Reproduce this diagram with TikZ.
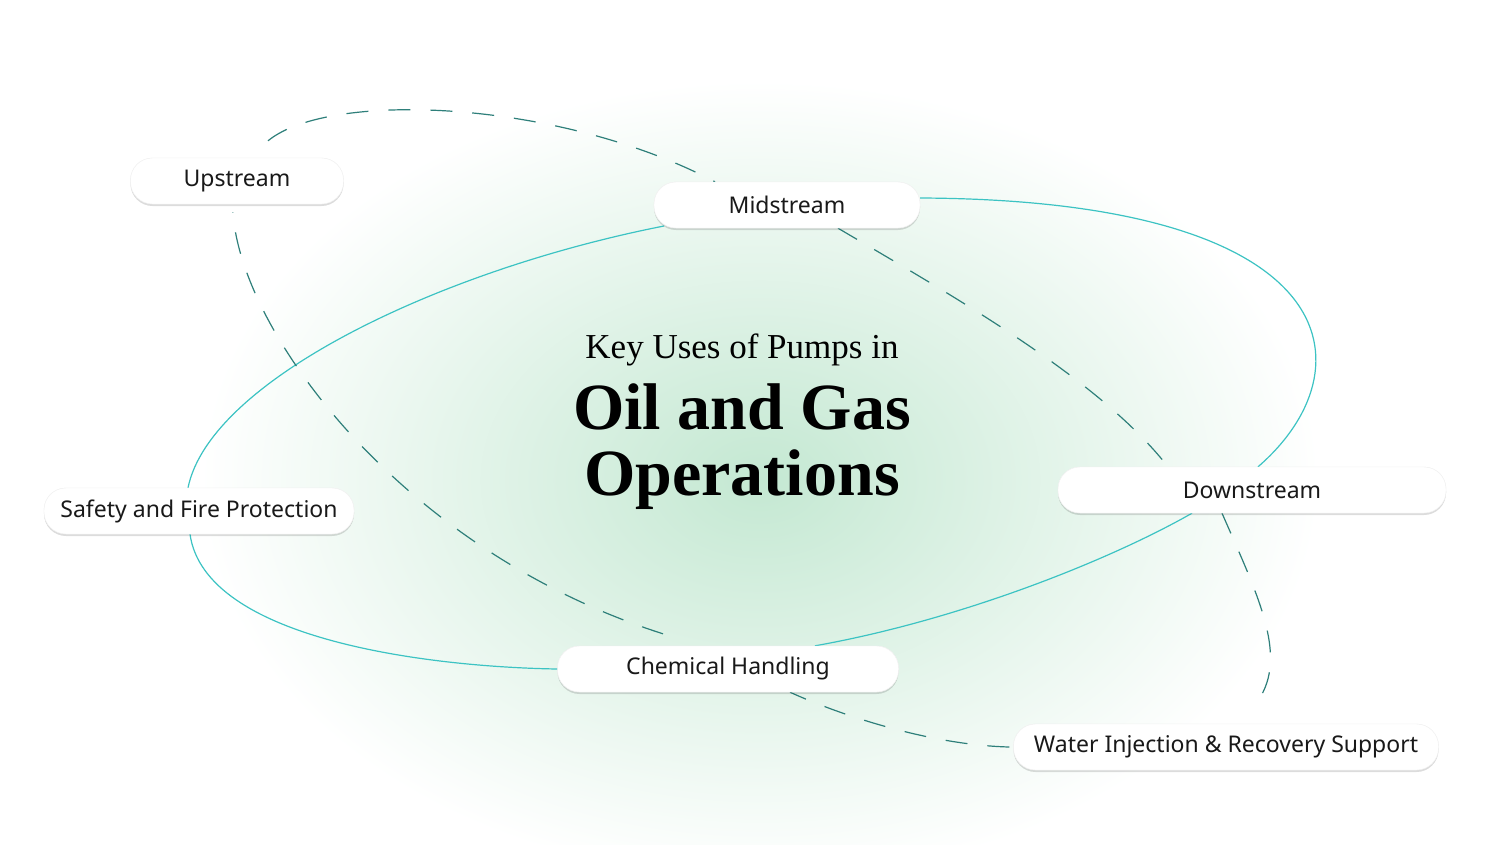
\documentclass[tikz,border=0pt]{standalone}
\usepackage{fontspec}
\setmainfont{Liberation Serif}
\newfontfamily\labelfont{Noto Sans}
\usetikzlibrary{shadows}
\definecolor{teal1}{HTML}{3CC3C3}
\definecolor{dash1}{HTML}{2E7F7A}
\definecolor{glow}{HTML}{C4E8D2}
\tikzset{
  pill/.style={draw=black!6, fill=white, rounded corners=22pt, minimum height=46pt,
    font=\labelfont\fontsize{23}{27}\selectfont, text=black!90,
    drop shadow={shadow xshift=0pt, shadow yshift=-2pt, opacity=0.07, fill=black}},
  loop/.style={draw=teal1, line width=1.2pt},
  dashline/.style={draw=dash1, line width=1.2pt, dash pattern=on 22pt off 20pt}
}
\begin{document}
\begin{tikzpicture}[x=1pt,y=-1pt]
\useasboundingbox (0,0) rectangle (1500,844);
\fill[white] (0,0) rectangle (1500,844);
\shade[inner color=glow, outer color=white] (760,480) ellipse (560 and 400);
% nodes
\node[pill, minimum width=213pt] (up) at (237,181) {Upstream};
\node[pill, minimum width=266pt] (mid) at (787,205) {Midstream};
\node[pill, minimum width=388pt] (down) at (1252,490) {Downstream};
\node[pill, minimum width=310pt] (safe) at (199,511) {Safety and Fire Protection};
\node[pill, minimum width=341pt] (chem) at (728,669) {Chemical Handling};
\node[pill, minimum width=425pt] (water) at (1226,747) {Water Injection \& Recovery Support};
% solid loop
\draw[loop] ([xshift=-123pt,yshift=-21pt]mid.center) .. controls (440,270) and (210,380) .. ([xshift=-11pt]safe.north);
\draw[loop] ([xshift=-9pt]safe.south) .. controls (205,640) and (430,667) .. (chem.west);
\draw[loop] ([xshift=87pt]chem.north) .. controls (960,620) and (1110,560) .. ([xshift=-60pt]down.south);
\draw[loop] ([xshift=6pt]down.north) .. controls (1370,370) and (1350,200) .. ([yshift=7pt]mid.east);
% dashed loop
\draw[dashline] ([xshift=31pt,yshift=17pt]up.north) .. controls (330,90) and (560,100) .. ([xshift=-72pt]mid.north);
\draw[dashline] ([xshift=51pt]mid.south) .. controls (960,300) and (1100,380) .. ([xshift=-84pt]down.north);
\draw[dashline] ([xshift=-30pt]down.south) .. controls (1260,600) and (1290,660) .. ([xshift=29pt,yshift=19pt]water.north);
\draw[dashline] ([xshift=-4pt]water.west) .. controls (930,745) and (840,715) .. ([xshift=62pt]chem.south);
\draw[dashline] ([xshift=-65pt,yshift=12pt]chem.north) .. controls (400,550) and (240,330) .. ([xshift=-4pt,yshift=-8pt]up.south);
% redraw nodes on top
\node[pill, minimum width=213pt] at (237,181) {Upstream};
\node[pill, minimum width=266pt] at (787,205) {Midstream};
\node[pill, minimum width=388pt] at (1252,490) {Downstream};
\node[pill, minimum width=310pt] at (199,511) {Safety and Fire Protection};
\node[pill, minimum width=341pt] at (728,669) {Chemical Handling};
\node[pill, minimum width=425pt] at (1226,747) {Water Injection \& Recovery Support};
% title
\node (t1) at (742,350) {\fontsize{35}{40}\selectfont Key Uses of Pumps in};
\node[font=\bfseries] (t2) at (742,407) {\fontsize{66}{70}\selectfont Oil and Gas};
\node[font=\bfseries] (t3) at (742,480) {\fontsize{66}{70}\selectfont Operations};
\end{tikzpicture}
\end{document}
